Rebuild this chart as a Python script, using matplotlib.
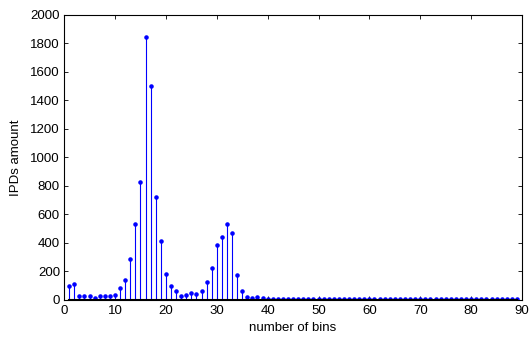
import numpy as np
import matplotlib
matplotlib.use('Agg')
import matplotlib.pyplot as plt

plt.rcParams['font.family'] = ['Liberation Sans', 'DejaVu Sans']

# IPD counts per bin (bins 1..89)
counts = [94, 112, 26, 26, 26, 16, 26, 30, 30, 37,
          80, 143, 285, 533, 830, 1843, 1502, 725, 416, 185,
          98, 61, 30, 37, 49, 42, 61, 122, 222, 384,
          440, 533, 470, 173, 63, 19, 14, 19, 12, 9,
          9, 6, 6, 6, 6, 6, 6, 6, 6, 8,
          6, 6, 4, 4, 6, 4, 4, 7, 4, 4,
          8, 7, 5, 7, 7, 5, 4, 4, 6, 8,
          6, 5, 5, 5, 5, 7, 7, 5, 5, 7,
          5, 5, 5, 5, 5, 5, 5, 5, 6]
bins = np.arange(1, len(counts) + 1)

fig = plt.figure(figsize=(5.3, 3.4), dpi=100)
ax = fig.add_axes([0.121, 0.118, 0.864, 0.838])

ml, sl, bl = ax.stem(bins, counts, linefmt='b-', markerfmt='b.', basefmt='k-')
plt.setp(sl, linewidth=0.8)
plt.setp(ml, markersize=4.5)
plt.setp(bl, linewidth=1.5)

ax.set_xlim(0, 90)
ax.set_ylim(0, 2000)
ax.set_xticks(range(0, 91, 10))
ax.set_yticks(range(0, 2001, 200))
ax.tick_params(direction='in', top=True, right=True, labelsize=9.5, length=3, width=0.6)
ax.tick_params(axis='x', pad=4)
ax.tick_params(axis='y', pad=3)
for s in ax.spines.values():
    s.set_linewidth(0.8)

ax.set_xlabel('number of bins', fontsize=9.5, labelpad=3)
ax.set_ylabel('IPDs amount', fontsize=9.5, labelpad=6)

fig.savefig('out.png', dpi=100)
